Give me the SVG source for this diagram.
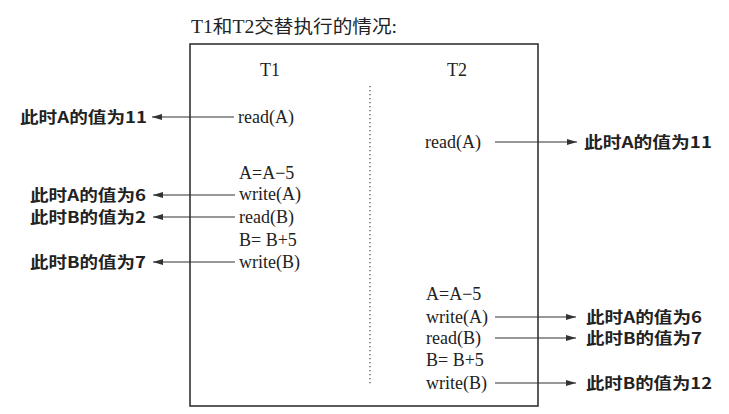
<svg xmlns="http://www.w3.org/2000/svg" width="729" height="414" viewBox="0 0 729 414">
<style>
.op{font-family:"Liberation Serif","Noto Sans CJK SC",serif;font-size:18px;fill:#222}
.hd{font-family:"Liberation Serif","Noto Sans CJK SC",serif;font-size:18px;fill:#222}
.lb{font-family:"Noto Sans CJK SC","Liberation Sans",sans-serif;font-size:15.5px;font-weight:bold;fill:#222}
.ar{stroke:#333;stroke-width:1.2;fill:none;marker-end:url(#ah)}
</style>
<defs>
<marker id="ah" markerWidth="11" markerHeight="7" refX="10" refY="3.5" orient="auto" markerUnits="userSpaceOnUse">
<path d="M0,0.5 L10,3.5 L0,6.5 Z" fill="#333"/>
</marker>
</defs>
<rect width="729" height="414" fill="#fff"/>
<text id="title" class="hd" x="191" y="33" textLength="206" lengthAdjust="spacingAndGlyphs">T1和T2交替执行的情况:</text>
<g id="frame">
<rect x="190" y="44" width="348" height="362" fill="none" stroke="#333" stroke-width="1.6"/>
<line x1="370" y1="86" x2="370" y2="386" stroke="#555" stroke-width="1.3" stroke-dasharray="1.3 2.7"/>
</g>
<g id="T1">
<text class="hd" x="270" y="76" text-anchor="middle">T1</text>
<text class="op" x="238" y="123">read(A)</text>
<text class="op" x="239" y="179">A=A−5</text>
<text class="op" x="239" y="200">write(A)</text>
<text class="op" x="239" y="223">read(B)</text>
<text class="op" x="239" y="246">B= B+5</text>
<text class="op" x="239" y="268">write(B)</text>
</g>
<g id="T2">
<text class="hd" x="457" y="76" text-anchor="middle">T2</text>
<text class="op" x="425" y="148">read(A)</text>
<text class="op" x="426" y="300">A=A−5</text>
<text class="op" x="426" y="323">write(A)</text>
<text class="op" x="426" y="344">read(B)</text>
<text class="op" x="426" y="366">B= B+5</text>
<text class="op" x="426" y="389">write(B)</text>
</g>
<g id="labels-left">
<text class="lb" x="147" y="122.5" text-anchor="end" textLength="127" lengthAdjust="spacingAndGlyphs">此时A的值为11</text>
<text class="lb" x="146" y="200.5" text-anchor="end" textLength="116" lengthAdjust="spacingAndGlyphs">此时A的值为6</text>
<text class="lb" x="146" y="222.5" text-anchor="end" textLength="116" lengthAdjust="spacingAndGlyphs">此时B的值为2</text>
<text class="lb" x="146" y="267.5" text-anchor="end" textLength="116" lengthAdjust="spacingAndGlyphs">此时B的值为7</text>
</g>
<g id="labels-right">
<text class="lb" x="584" y="147.5" textLength="128" lengthAdjust="spacingAndGlyphs">此时A的值为11</text>
<text class="lb" x="586" y="322.5" textLength="116" lengthAdjust="spacingAndGlyphs">此时A的值为6</text>
<text class="lb" x="586" y="343.5" textLength="116" lengthAdjust="spacingAndGlyphs">此时B的值为7</text>
<text class="lb" x="586" y="388.5" textLength="126" lengthAdjust="spacingAndGlyphs">此时B的值为12</text>
</g>
<g id="connectors">
<line class="ar" x1="234" y1="117" x2="152" y2="117"/>
<line class="ar" x1="235" y1="195" x2="153" y2="195"/>
<line class="ar" x1="235" y1="217" x2="153" y2="217"/>
<line class="ar" x1="235" y1="262" x2="153" y2="262"/>
<line class="ar" x1="495" y1="142" x2="577" y2="142"/>
<line class="ar" x1="495" y1="317" x2="576" y2="317"/>
<line class="ar" x1="495" y1="338" x2="576" y2="338"/>
<line class="ar" x1="495" y1="383" x2="576" y2="383"/>
</g>
</svg>
